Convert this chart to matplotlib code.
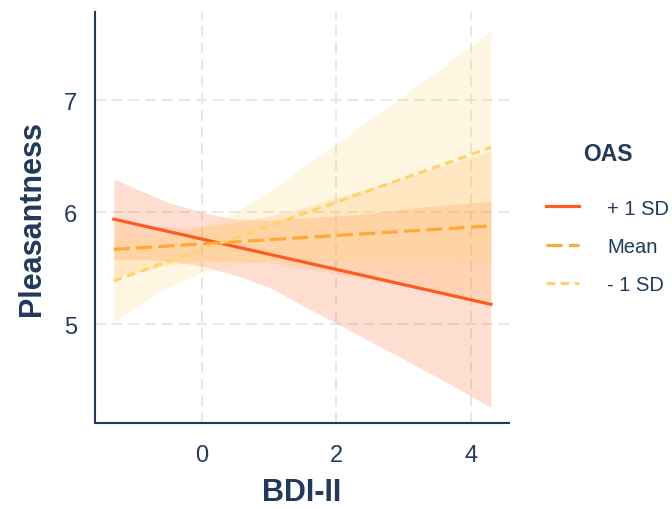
import numpy as np
import matplotlib.pyplot as plt

plt.rcParams['font.family'] = ['Liberation Sans', 'DejaVu Sans']

navy = '#213A5C'

# fitted simple slopes: BDI-II at the ends of the data range
line_x = [-1.31, 4.3]
hi_fit = [5.94, 5.18]    # + 1 SD OAS
mean_fit = [5.67, 5.88]  # Mean OAS
lo_fit = [5.39, 6.58]    # - 1 SD OAS

# confidence bands, read at these BDI-II values
bdi = [-1.31, -1, -0.5, 0, 0.5, 1, 1.5, 2, 2.5, 3, 3.5, 4.3]

hi_low = [5.58, 5.58, 5.57, 5.52, 5.44, 5.33, 5.17, 5.01, 4.85, 4.69, 4.53, 4.26]
hi_up = [6.30, 6.22, 6.09, 6.00, 5.94, 5.93, 5.95, 5.97, 5.99, 6.03, 6.06, 6.10]

mean_low = [5.42, 5.47, 5.53, 5.57, 5.57, 5.55, 5.50, 5.45, 5.40, 5.35, 5.30, 5.21]
mean_up = [5.92, 5.89, 5.87, 5.87, 5.91, 5.97, 6.04, 6.13, 6.22, 6.31, 6.40, 6.55]

lo_low = [5.02, 5.15, 5.33, 5.47, 5.54, 5.57, 5.58, 5.57, 5.57, 5.56, 5.56, 5.54]
lo_up = [5.76, 5.77, 5.79, 5.87, 6.00, 6.19, 6.40, 6.61, 6.83, 7.04, 7.26, 7.62]

labels = ['+ 1 SD', 'Mean', '- 1 SD']
colors = ['#FF5A1F', '#FFA83A', '#FFD36B']
styles = ['-', (0, (5, 2)), (0, (2.7, 1.7))]

fig = plt.figure(figsize=(6.72, 5.10), dpi=100)
ax = fig.add_axes([95 / 672, 1 - 424 / 510, (509 - 95) / 672, (424 - 13) / 510])

bands = [(hi_low, hi_up), (mean_low, mean_up), (lo_low, lo_up)]
fits = [hi_fit, mean_fit, lo_fit]

for (lw_, up_), c in zip(bands, colors):
    ax.fill_between(bdi, lw_, up_, color=c, alpha=0.2, linewidth=0)

for fit, c, ls, lab in zip(fits, colors, styles, labels):
    ax.plot(line_x, fit, color=c, linestyle=ls, linewidth=2.3, label=lab)

ax.set_xlim(-1.59, 4.57)
ax.set_ylim(4.12, 7.79)
ax.set_xticks([0, 2, 4])
ax.set_yticks([5, 6, 7])

ax.grid(True, color='#E0E0E0', linestyle=(0, (7, 4)), linewidth=1.1)
ax.set_axisbelow(True)

for s in ['top', 'right']:
    ax.spines[s].set_visible(False)
for s in ['left', 'bottom']:
    ax.spines[s].set_color(navy)
    ax.spines[s].set_linewidth(1.5)

ax.tick_params(axis='both', length=0, labelsize=17, labelcolor=navy)
ax.tick_params(axis='x', pad=15)
ax.tick_params(axis='y', pad=13)

ax.set_xlabel('BDI-II', fontsize=22, fontweight='bold', color=navy, labelpad=8)
ax.set_ylabel('Pleasantness', fontsize=22, fontweight='bold', color=navy, labelpad=12)

leg = fig.legend(loc='center left', bbox_to_anchor=(546 / 672, 1 - 219 / 510),
                 frameon=False, title='OAS', fontsize=14.5,
                 handlelength=1.65, handletextpad=1.4, labelspacing=0.95,
                 borderpad=0, borderaxespad=0)
leg.get_title().set_fontweight('bold')
leg.get_title().set_fontsize(16.5)
leg.get_title().set_color(navy)
leg._legend_box.sep = 24
for t in leg.get_texts():
    t.set_color(navy)

fig.savefig('out.png', dpi=100)
